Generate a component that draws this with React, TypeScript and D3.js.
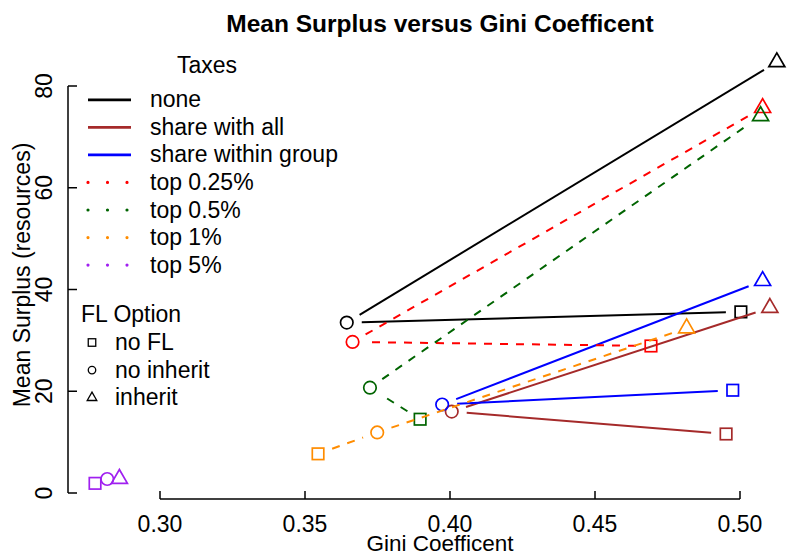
import React from "react";
import * as d3 from "d3";

const taxes = ["none", "share with all", "share within group", "top 0.25%", "top 0.5%", "top 1%", "top 5%"];
const taxColors = ["#000000", "#A52A2A", "#0000FF", "#FF0000", "#006400", "#FF8C00", "#A020F0"];
const taxDashed = [false, false, false, true, true, true, true];

const flOptions = ["no FL", "no inherit", "inherit"];

const giniNoFL = [0.5003, 0.4952, 0.4975, 0.4693, 0.3897, 0.3545, 0.2776];
const surplusNoFL = [35.6, 11.6, 20.2, 28.9, 14.5, 7.7, 1.9];
const giniNoInherit = [0.3644, 0.4006, 0.3973, 0.3664, 0.3724, 0.3749, 0.2818];
const surplusNoInherit = [33.5, 16.0, 17.4, 29.7, 20.7, 11.9, 2.75];
const giniInherit = [0.5127, 0.5103, 0.5078, 0.5078, 0.5071, 0.4816, 0.286];
const surplusInherit = [84.7, 36.4, 41.7, 75.7, 74.1, 32.4, 2.8];

const xTicks = [0.3, 0.35, 0.4, 0.45, 0.5];
const yTicks = [0, 20, 40, 60, 80];

const W = 789;
const H = 557;
const FONT = "'Liberation Sans', Arial, Helvetica, sans-serif";

function triPath(r: number) {
  const xc = (Math.sqrt(3) / 2) * r;
  return `M0,${-r}L${xc},${r / 2}L${-xc},${r / 2}Z`;
}

function Marker({ shape, x, y, color, size, sw }: { shape: number; x: number; y: number; color: string; size: number; sw: number }) {
  if (shape === 0) {
    return <rect x={x - size / 2} y={y - size / 2} width={size} height={size} fill="none" stroke={color} strokeWidth={sw} />;
  }
  if (shape === 1) {
    return <circle cx={x} cy={y} r={size / 2} fill="none" stroke={color} strokeWidth={sw} />;
  }
  return <path d={triPath(size * 0.74)} transform={`translate(${x},${y})`} fill="none" stroke={color} strokeWidth={sw} strokeLinejoin="miter" />;
}

export default function App() {
  const x = d3.scaleLinear().domain([0.3, 0.5]).range([160, 740]);
  const y = d3.scaleLinear().domain([0, 80]).range([493, 86]);
  const xAxisY = 499;
  const yAxisX = 68;
  const gap = 15;

  const groups = taxes.map((t, i) => {
    const pts = [
      [x(giniNoFL[i]), y(surplusNoFL[i])],
      [x(giniNoInherit[i]), y(surplusNoInherit[i])],
      [x(giniInherit[i]), y(surplusInherit[i])],
    ];
    const segs: string[] = [];
    for (let k = 0; k < 2; k++) {
      const [x0, y0] = pts[k];
      const [x1, y1] = pts[k + 1];
      const len = Math.hypot(x1 - x0, y1 - y0);
      if (len > 2 * gap) {
        const ux = (x1 - x0) / len;
        const uy = (y1 - y0) / len;
        segs.push(`M${x0 + ux * gap},${y0 + uy * gap}L${x1 - ux * gap},${y1 - uy * gap}`);
      }
    }
    return { pts, segs, color: taxColors[i], dashed: taxDashed[i] };
  });

  const legRowBase = (i: number) => 107.3 + i * 27.55;
  const flRowBase = (i: number) => 350 + i * 27.6;

  return (
    <svg width={W} height={H} style={{ display: "block", position: "absolute", left: 0, top: 0 }} fontFamily={FONT}>
      <rect width={W} height={H} fill="#ffffff" />
      <text x={440} y={32} textAnchor="middle" fontWeight="bold" fontSize={24.5}>
        Mean Surplus versus Gini Coefficent
      </text>

      {/* x axis */}
      <line x1={x(0.3)} x2={x(0.5)} y1={xAxisY} y2={xAxisY} stroke="#000" strokeWidth={1.5} />
      {xTicks.map((t) => (
        <g key={t}>
          <line x1={x(t)} x2={x(t)} y1={xAxisY} y2={xAxisY - 8} stroke="#000" strokeWidth={1.5} />
          <text x={x(t)} y={532} textAnchor="middle" fontSize={23}>
            {t.toFixed(2)}
          </text>
        </g>
      ))}
      <text x={440} y={551} textAnchor="middle" fontSize={22.5}>
        Gini Coefficent
      </text>

      {/* y axis */}
      <line x1={yAxisX} x2={yAxisX} y1={y(0)} y2={y(80)} stroke="#000" strokeWidth={1.5} />
      {yTicks.map((t) => (
        <g key={t}>
          <line x1={yAxisX} x2={yAxisX + 9} y1={y(t)} y2={y(t)} stroke="#000" strokeWidth={1.5} />
          <text transform={`translate(52,${y(t)}) rotate(-90)`} textAnchor="middle" fontSize={23}>
            {t}
          </text>
        </g>
      ))}
      <text transform={`translate(30,275) rotate(-90)`} textAnchor="middle" fontSize={23}>
        Mean Surplus (resources)
      </text>

      {/* series */}
      {groups.map((g, i) => (
        <g key={i}>
          {g.segs.map((d, k) => (
            <path key={k} d={d} stroke={g.color} strokeWidth={2} fill="none" strokeDasharray={g.dashed ? "8 8" : undefined} />
          ))}
          {g.pts.map((p, k) => (
            <Marker key={k} shape={k} x={p[0]} y={p[1]} color={g.color} size={k === 0 ? 11.5 : 12.5} sw={1.7} />
          ))}
        </g>
      ))}

      {/* Taxes legend */}
      <text x={207} y={73} textAnchor="middle" fontSize={23}>
        Taxes
      </text>
      {taxes.map((t, i) => (
        <g key={t}>
          <line
            x1={88}
            x2={131}
            y1={legRowBase(i) - 7.5}
            y2={legRowBase(i) - 7.5}
            stroke={taxColors[i]}
            strokeWidth={taxDashed[i] ? 3.2 : 2.8}
            strokeLinecap={taxDashed[i] ? "round" : "butt"}
            strokeDasharray={taxDashed[i] ? "0 19.5" : undefined}
          />
          <text x={150} y={legRowBase(i)} fontSize={23}>
            {t}
          </text>
        </g>
      ))}

      {/* FL legend */}
      <text x={81} y={322} fontSize={23}>
        FL Option
      </text>
      {flOptions.map((t, i) => (
        <g key={t}>
          <Marker shape={i} x={92} y={flRowBase(i) - 7.5} color="#000" size={7.5} sw={1.3} />
          <text x={115} y={flRowBase(i)} fontSize={23}>
            {t}
          </text>
        </g>
      ))}
    </svg>
  );
}
